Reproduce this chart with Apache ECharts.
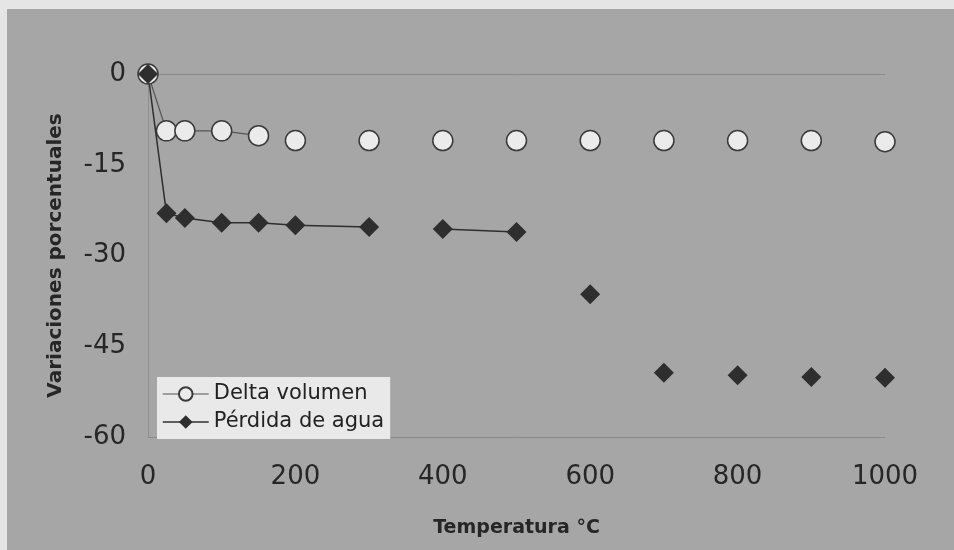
<!DOCTYPE html>
<html>
<head>
<meta charset="utf-8">
<script src="https://cdn.jsdelivr.net/npm/echarts@6/dist/echarts.min.js"></script>
<style>
  html, body { margin:0; padding:0; width:954px; height:550px; background:#e5e5e5; overflow:hidden; }
  #bg { position:absolute; left:7px; top:9px; right:0; bottom:0; background:#a6a6a6; }
  #chart { position:absolute; left:0; top:0; width:954px; height:550px; }
</style>
</head>
<body>
<div id="bg"></div>
<div id="chart"></div>
<script>
// ---- data ----
const temps = [0, 25, 50, 100, 150, 200, 300, 400, 500, 600, 700, 800, 900, 1000];
const deltaVolumen = [0, -9.4, -9.4, -9.4, -10.2, -11.0, -11.0, -11.0, -11.0, -11.0, -11.0, -11.0, -11.0, -11.2];
const perdidaAgua = [0, -23.0, -23.8, -24.6, -24.6, -25.0, -25.3, -25.6, -26.1, -36.4, -49.4, -49.8, -50.1, -50.2];
const seriesNames = ['Delta volumen', 'Pérdida de agua'];
// index ranges where the connecting line is visible in the original
const deltaSegments = [[0, 4]];
const perdidaSegments = [[0, 6], [7, 8]];
const xTicks = [0, 200, 400, 600, 800, 1000];
const yTicks = [0, -15, -30, -45, -60];
const xTitle = 'Temperatura °C';
const yTitle = 'Variaciones porcentuales';

const pairs = (ys) => temps.map((t, i) => [t, ys[i]]);
const segSeries = (ys, segs, style, z) => segs.map(([a, b]) => ({
  type: 'line',
  data: temps.slice(a, b + 1).map((t, k) => [t, ys[a + k]]),
  showSymbol: false,
  symbol: 'none',
  lineStyle: style,
  silent: true,
  z: z,
  animation: false
}));

const font = 'DejaVu Sans, Verdana, sans-serif';
const txt = '#262626';
const chart = echarts.init(document.getElementById('chart'), null, { renderer: 'canvas' });
chart.setOption({
  backgroundColor: 'transparent',
  animation: false,
  textStyle: { fontFamily: font },
  grid: { left: 148, right: 69, top: 74, bottom: 113 },
  xAxis: {
    type: 'value', min: xTicks[0], max: xTicks[xTicks.length - 1], interval: xTicks[1] - xTicks[0],
    name: xTitle, nameLocation: 'middle', nameGap: 82,
    nameTextStyle: { fontSize: 19, fontWeight: 'bold', color: txt, fontFamily: font },
    axisLine: { show: false },
    axisTick: { show: false },
    splitLine: { show: false },
    axisLabel: { fontSize: 26, color: txt, margin: 27, fontFamily: font, formatter: v => String(v) }
  },
  yAxis: {
    type: 'value', min: yTicks[yTicks.length - 1], max: yTicks[0], interval: yTicks[0] - yTicks[1],
    name: yTitle, nameLocation: 'middle', nameGap: 82,
    nameTextStyle: { fontSize: 20, fontWeight: 'bold', color: txt, fontFamily: font },
    axisLine: { show: true, lineStyle: { color: '#8e8e8e', width: 1 } },
    axisTick: { show: false },
    splitLine: { show: true, lineStyle: { color: ['#8a8a8a', 'rgba(0,0,0,0)', 'rgba(0,0,0,0)', 'rgba(0,0,0,0)'], width: 1 } },
    axisLabel: { fontSize: 26, color: txt, margin: 22, fontFamily: font }
  },
  legend: {
    orient: 'vertical', left: 157, top: 377,
    padding: [4, 6, 4, 5],
    backgroundColor: '#e9e9e9',
    itemWidth: 46, itemHeight: 17, itemGap: 2,
    textStyle: { fontSize: 21, color: '#222', lineHeight: 26, fontFamily: font },
    data: [
      { name: seriesNames[0], lineStyle: { color: '#555', width: 1.2, opacity: 1 } },
      { name: seriesNames[1], lineStyle: { color: '#2e2e2e', width: 1.5, opacity: 1 } }
    ]
  },
  series: [
    ...segSeries(deltaVolumen, deltaSegments, { color: '#555', width: 1.2 }, 2),
    ...segSeries(perdidaAgua, perdidaSegments, { color: '#2e2e2e', width: 1.5 }, 2),
    {
      name: seriesNames[0], type: 'line', data: pairs(deltaVolumen),
      symbol: 'circle', symbolSize: 20, showAllSymbol: true,
      lineStyle: { opacity: 0, width: 0, color: '#555' },
      itemStyle: { color: '#ebebeb', borderColor: '#3a3a3a', borderWidth: 1.5 },
      z: 3
    },
    {
      name: seriesNames[1], type: 'line', data: pairs(perdidaAgua),
      symbol: 'diamond', symbolSize: 20, showAllSymbol: true,
      lineStyle: { opacity: 0, width: 0, color: '#2e2e2e' },
      itemStyle: { color: '#2e2e2e' },
      z: 4
    }
  ]
});
</script>
</body>
</html>
